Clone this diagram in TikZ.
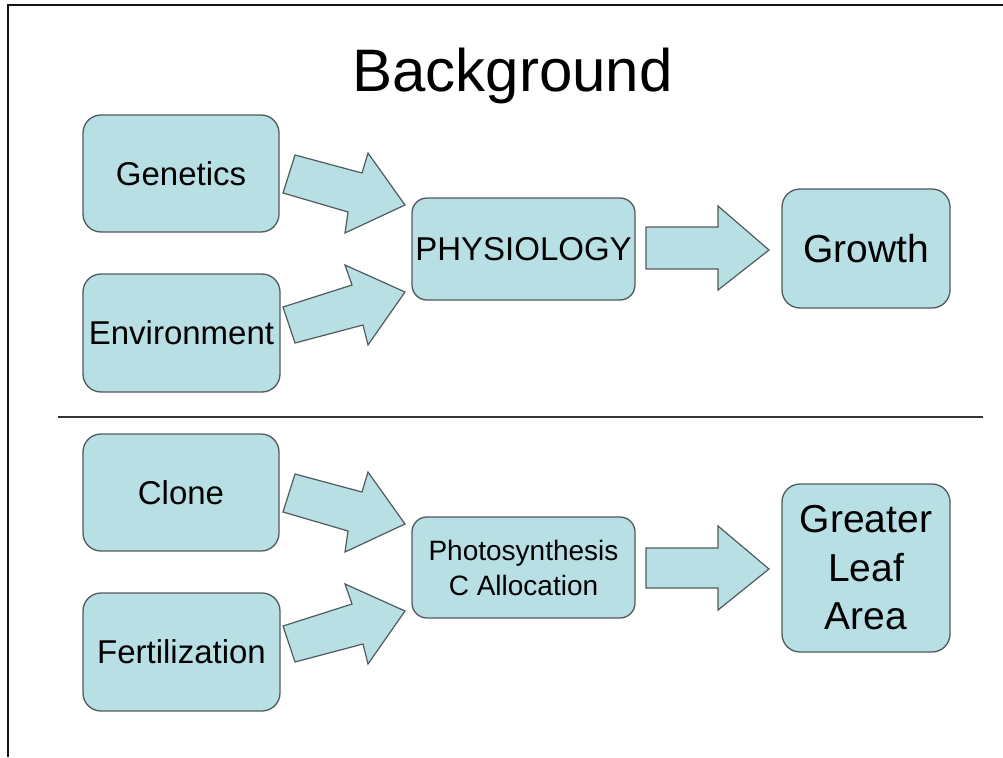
\documentclass[tikz,border=0pt]{standalone}
\usepackage{fontspec}
\setmainfont{Liberation Sans}
\definecolor{boxfill}{RGB}{184,223,228}
\definecolor{boxline}{RGB}{80,90,92}
\definecolor{frameline}{RGB}{20,20,20}
\begin{document}
\begin{tikzpicture}[x=1pt,y=-1pt,
  box/.style={draw=boxline,line width=1.3pt,fill=boxfill,rounded corners=18pt,
    inner sep=0pt,align=center,text=black},
  smalltxt/.style={font=\fontsize{33}{40}\selectfont},
  bigtxt/.style={font=\fontsize{39}{48.5}\selectfont},
  phototxt/.style={font=\fontsize{28}{35}\selectfont},
  blockarrow/.style={draw=boxline,line width=1.2pt,fill=boxfill,line join=miter}]
\useasboundingbox (0,0) rectangle (1003,757);
% frame
\draw[frameline,line width=2.5pt] (1003,5) -- (8,5) -- (8,757);
% title
\node[anchor=base,font=\fontsize{60}{72}\selectfont,inner sep=0pt] (title) at (512.5,92) {Background};
% divider
\coordinate (divL) at (58,417);
\coordinate (divR) at (983,417);
\draw[black!80,line width=2pt] (divL) -- (divR);
% upper boxes
\node[box,smalltxt,minimum width=196pt,minimum height=117pt] (gen) at (181,173.5) {Genetics};
\node[box,smalltxt,minimum width=197pt,minimum height=118pt] (env) at (181.5,333) {Environment};
\node[box,smalltxt,minimum width=223pt,minimum height=102pt,rounded corners=15pt] (phys) at (523.5,249) {PHYSIOLOGY};
\node[box,bigtxt,minimum width=168pt,minimum height=119pt] (growth) at (866,248.5) {Growth};
% lower boxes
\node[box,smalltxt,minimum width=196pt,minimum height=117pt] (clone) at (181,492.5) {Clone};
\node[box,smalltxt,minimum width=197pt,minimum height=118pt] (fert) at (181.5,652) {Fertilization};
\node[box,phototxt,minimum width=223pt,minimum height=101pt,rounded corners=15pt] (photo) at (523.5,567.5) {Photosynthesis\\C Allocation};
\node[box,bigtxt,minimum width=168pt,minimum height=168pt] (gla) at (866,568) {Greater\\Leaf\\Area};
% block arrows, upper
\draw[blockarrow] (295,155) -- (362,173) -- (368,153) -- (405,205) -- (345,233) -- (348,212) -- (283,193) -- cycle;
\draw[blockarrow] (283,307) -- (352,285) -- (345,265) -- (405,292) -- (368,345) -- (363,325) -- (295,343) -- cycle;
\draw[blockarrow] (646,227) -- (718,227) -- (718,206) -- (769,250) -- (718,290) -- (718,269) -- (646,269) -- cycle;
% block arrows, lower
\begin{scope}[yshift=-319pt]
\draw[blockarrow] (295,155) -- (362,173) -- (368,153) -- (405,205) -- (345,233) -- (348,212) -- (283,193) -- cycle;
\draw[blockarrow] (283,307) -- (352,285) -- (345,265) -- (405,292) -- (368,345) -- (363,325) -- (295,343) -- cycle;
\end{scope}
\draw[blockarrow] (646,548) -- (718,548) -- (718,526) -- (769,569) -- (718,610) -- (718,588) -- (646,588) -- cycle;
\end{tikzpicture}
\end{document}
